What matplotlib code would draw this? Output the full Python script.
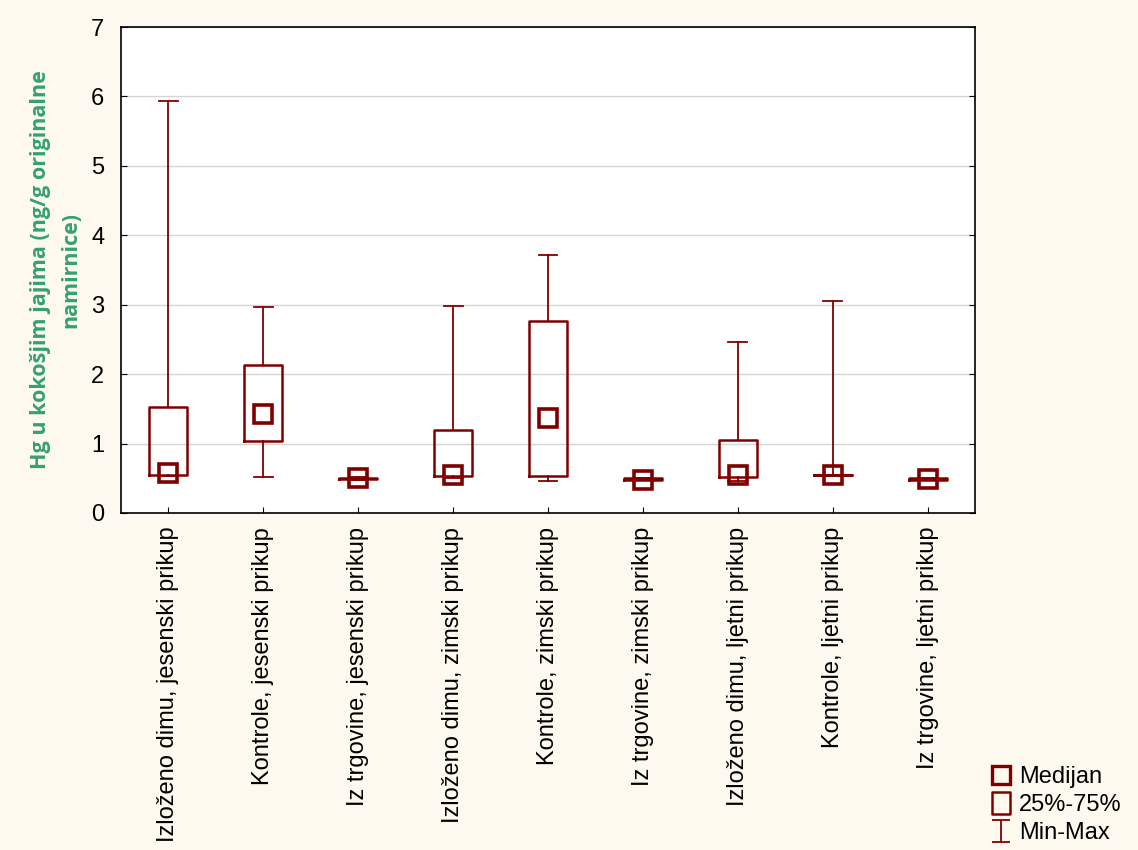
import matplotlib.pyplot as plt
from matplotlib.lines import Line2D
from matplotlib.path import Path

categories = ['Izloženo dimu, jesenski prikup', 'Kontrole, jesenski prikup',
              'Iz trgovine, jesenski prikup', 'Izloženo dimu, zimski prikup',
              'Kontrole, zimski prikup', 'Iz trgovine, zimski prikup',
              'Izloženo dimu, ljetni prikup', 'Kontrole, ljetni prikup',
              'Iz trgovine, ljetni prikup']
mins = [0.53, 0.52, 0.48, 0.50, 0.46, 0.47, 0.46, 0.53, 0.47]
q1 = [0.55, 1.04, 0.49, 0.53, 0.53, 0.48, 0.52, 0.54, 0.48]
medians = [0.58, 1.42, 0.50, 0.54, 1.37, 0.48, 0.55, 0.54, 0.49]
q3 = [1.53, 2.13, 0.51, 1.20, 2.77, 0.50, 1.05, 0.55, 0.50]
maxs = [5.94, 2.97, 0.52, 2.98, 3.72, 0.50, 2.46, 3.06, 0.50]

red = '#800000'
cream = '#fdf9ee'

plt.rcParams['font.family'] = ['Liberation Sans', 'DejaVu Sans']

fig = plt.figure(figsize=(11.38, 8.5), dpi=100, facecolor=cream)
ax = fig.add_axes([0.1063, 0.3965, 0.7505, 0.5717])
ax.set_facecolor('white')

stats = []
for i in range(len(categories)):
    stats.append({'med': medians[i], 'q1': q1[i], 'q3': q3[i],
                  'whislo': mins[i], 'whishi': maxs[i], 'fliers': []})
pos = list(range(len(categories)))
ax.bxp(stats, positions=pos, widths=0.4, capwidths=0.2, showfliers=False,
       boxprops=dict(color=red, linewidth=1.8),
       whiskerprops=dict(color=red, linewidth=1.3),
       capprops=dict(color=red, linewidth=1.3),
       medianprops=dict(linewidth=0))
ax.plot(pos, medians, 's', ms=13, mfc='none', mec=red, mew=2.6, ls='none', zorder=5)

ax.set_xlim(-0.5, len(categories) - 0.5)
ax.set_ylim(0, 7)
ax.set_yticks(range(8))
ax.set_xticks(pos)
ax.set_xticklabels(categories, rotation=90, fontsize=17)
ax.tick_params(axis='y', labelsize=17, direction='in', right=True, length=4, pad=12)
ax.tick_params(axis='x', direction='in', length=4, pad=10)
ax.grid(axis='y', color='#d4d4d4', linewidth=1)
ax.set_axisbelow(True)
for s in ax.spines.values():
    s.set_linewidth(1.2)

ax.set_ylabel('Hg u kokošjim jajima (ng/g originalne\nnamirnice)', fontsize=15.5,
              fontweight='bold', color='#35a06e', family=['Open Sans', 'DejaVu Sans'],
              labelpad=7, linespacing=1.6)

# legend symbols
ibar = Path([(-0.8, 1), (0.8, 1), (0, 1), (0, -1), (-0.8, -1), (0.8, -1)],
            [Path.MOVETO, Path.LINETO, Path.MOVETO, Path.LINETO, Path.MOVETO, Path.LINETO])
tall_box = Path([(-0.41, -0.5), (0.41, -0.5), (0.41, 0.5), (-0.41, 0.5), (-0.41, -0.5)],
                [Path.MOVETO, Path.LINETO, Path.LINETO, Path.LINETO, Path.CLOSEPOLY])
handles = [Line2D([], [], marker='s', ms=13.5, mfc='none', mec=red, mew=2.4, ls='none'),
           Line2D([], [], marker=tall_box, ms=16.5, mfc='none', mec=red, mew=1.8, ls='none'),
           Line2D([], [], marker=ibar, ms=16.5, mfc='none', mec=red, mew=1.3, ls='none')]
fig.legend(handles, ['Medijan', '25%-75%', 'Min-Max'], loc='lower right',
           bbox_to_anchor=(1.004, -0.018), frameon=False, fontsize=17,
           handletextpad=0.25, labelspacing=0.26, handlelength=1.0)

fig.savefig('out.png', dpi=100, facecolor=cream)
